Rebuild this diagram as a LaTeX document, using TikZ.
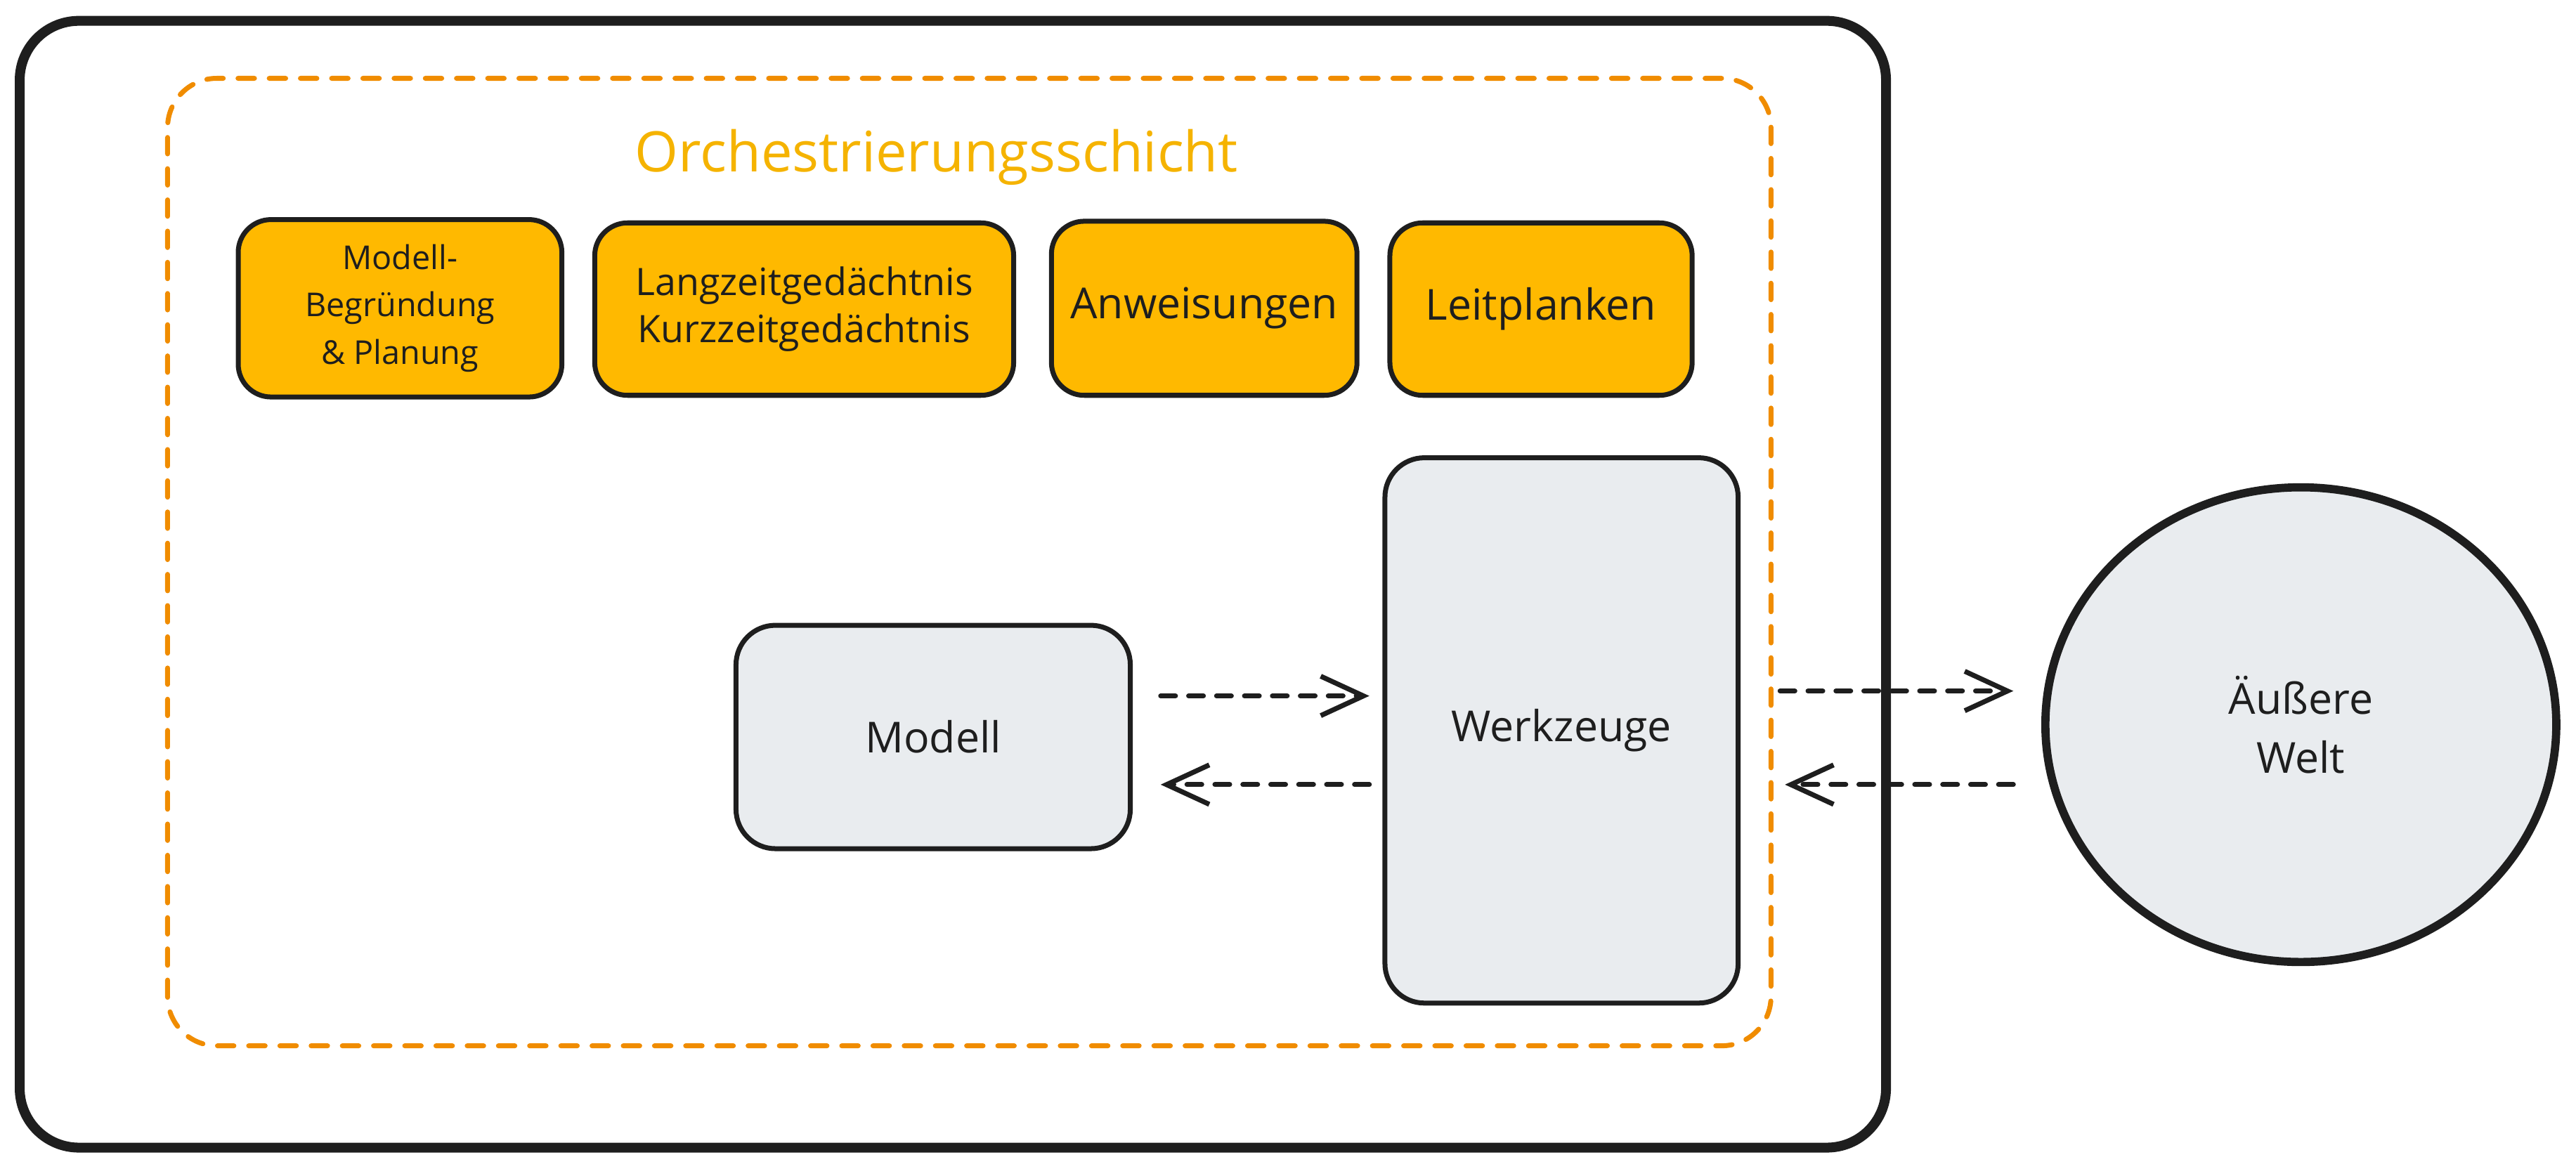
\documentclass[tikz,border=0pt]{standalone}
\usepackage{fontspec}
\setmainfont{Open Sans}
\usetikzlibrary{calc,shapes.geometric,arrows.meta}
\definecolor{trait}{HTML}{1E1E1E}
\definecolor{jaune}{HTML}{FFB900}
\definecolor{titre}{HTML}{F5B300}
\definecolor{tirets}{HTML}{F08C00}
\definecolor{griston}{HTML}{E9ECEF}

\begin{document}
\begin{tikzpicture}[x=1pt,y=1pt,
  boite/.style={draw=trait, line width=3pt, fill=jaune, rounded corners=20pt, align=center, text=trait, font=\fontsize{20}{29}\selectfont},
  bloc/.style={draw=trait, line width=3pt, fill=griston, rounded corners=24pt, align=center, text=trait, font=\fontsize{26}{36}\selectfont},
  fleche/.style={draw=trait, line width=3pt, dash pattern=on 9pt off 8pt, line cap=round, -{Straight Barb[length=26pt,width=24pt]}}]
  \useasboundingbox (0,0) rectangle (1568,711.7);
      \coordinate (A) at (12,13);
      \coordinate (B) at (1148,699);
      \coordinate (C) at (102,75);
      \coordinate (D) at (1078,664);

      % CADRES
      \draw[trait, line width=6pt, rounded corners=36pt] (A) rectangle (B);
      \draw[tirets, line width=3pt, line cap=round, dash pattern=on 10pt off 9pt, rounded corners=30pt] (C) rectangle (D);
      \node[text=titre, font=\fontsize{34}{40}\selectfont] (titre) at (570,616) {Orchestrierungsschicht};

      % BOITES JAUNES
      \node[boite, minimum width=197pt, minimum height=108pt] (planung) at (243.5,524) {Modell-\\Begründung\\\& Planung};
      \node[boite, minimum width=255pt, minimum height=105pt, font=\fontsize{23}{29}\selectfont] (gedaechtnis) at (489.5,523.5) {Langzeitgedächtnis\\Kurzzeitgedächtnis};
      \node[boite, minimum width=186pt, minimum height=106pt, font=\fontsize{26}{30}\selectfont] (anweisungen) at (733,524) {Anweisungen};
      \node[boite, minimum width=184pt, minimum height=105pt, font=\fontsize{26}{30}\selectfont] (leitplanken) at (938,523.5) {Leitplanken};

      % BLOCS GRIS
      \node[bloc, minimum width=240pt, minimum height=136pt] (modell) at (568,263) {Modell};
      \node[bloc, minimum width=215pt, minimum height=332pt] (werkzeuge) at (950.5,267) {Werkzeuge};
      \node[bloc, ellipse, line width=5pt, minimum width=311pt, minimum height=289pt] (welt) at (1400.5,270.5) {Äußere\\Welt};

      % FLECHES
      \draw[fleche, shorten <=17pt, shorten >=8pt] ([yshift=25pt]modell.east) -- ([yshift=21pt]werkzeuge.west);
      \draw[fleche, shorten <=8pt, shorten >=17pt] ([yshift=-33pt]werkzeuge.west) -- ([yshift=-29pt]modell.east);
      \draw[fleche, shorten <=24pt, shorten >=17pt] ([yshift=24pt]werkzeuge.east) -- ([yshift=20.5pt]welt.west);
      \draw[fleche, shorten <=17pt, shorten >=27pt] ([yshift=-36.5pt]welt.west) -- ([yshift=-33pt]werkzeuge.east);
\end{tikzpicture}
\end{document}
